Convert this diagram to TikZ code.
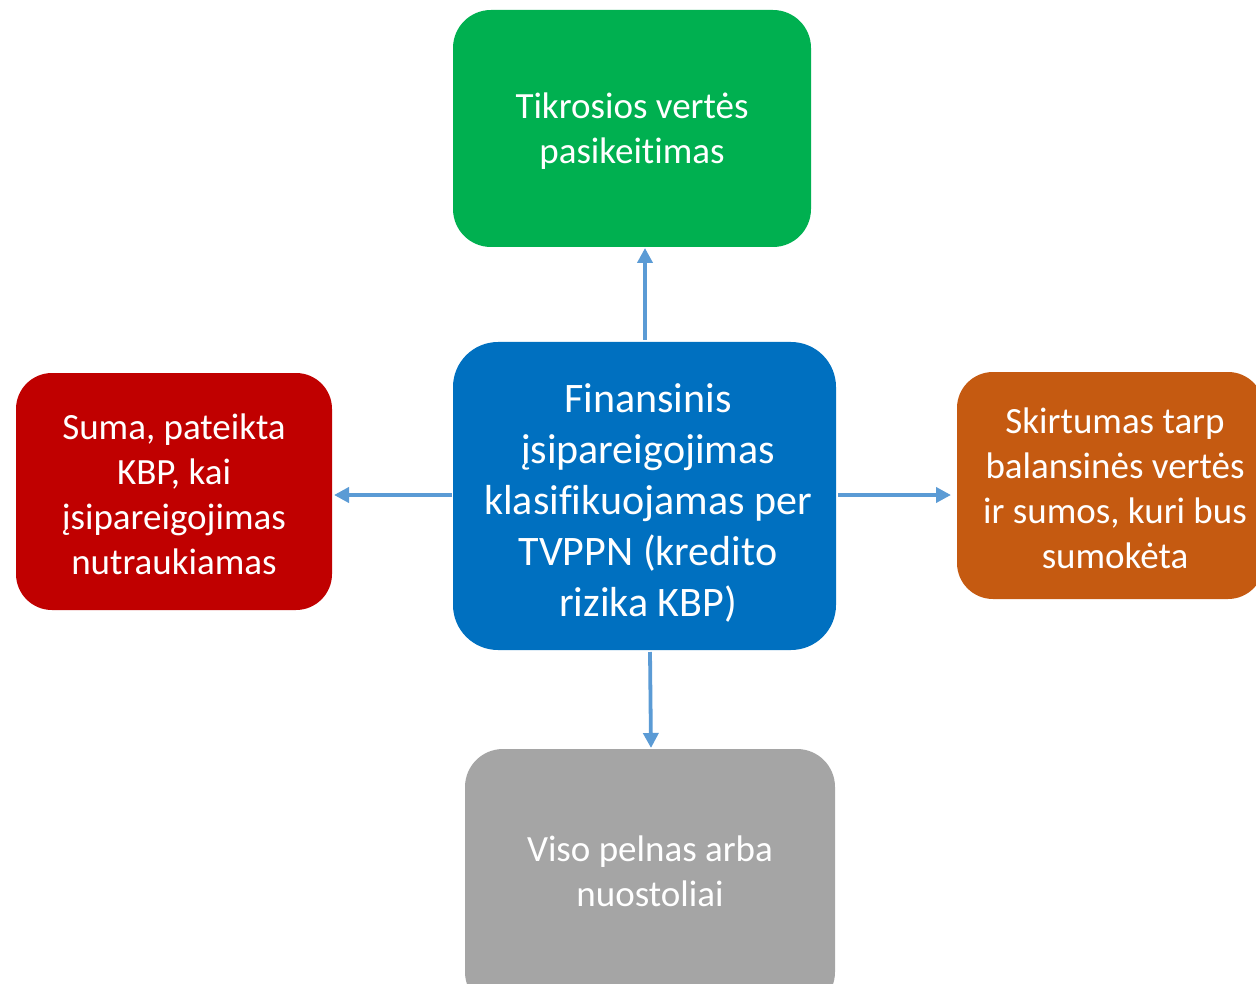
\documentclass[tikz,border=0pt]{standalone}
\usepackage{fontspec}
\setmainfont[Ligatures=NoCommon]{Carlito}
\usetikzlibrary{arrows.meta}
\definecolor{cgreen}{HTML}{00B050}
\definecolor{cblue}{HTML}{0070C0}
\definecolor{cred}{HTML}{C00000}
\definecolor{corange}{HTML}{C55A11}
\definecolor{cgray}{HTML}{A5A5A5}
\definecolor{carrow}{HTML}{5B9BD5}
\tikzset{
  lbl/.style={text=white, align=center, font=\fontsize{37}{45}\selectfont},
  conn/.style={draw=carrow, line width=3.8pt, -{Triangle[length=15pt,width=15pt]}}
}
\begin{document}
\begin{tikzpicture}[x=1pt,y=-1pt]
\useasboundingbox (0,0) rectangle (1256,984);
\begin{scope}
\clip (0,0) rectangle (1256,984);
\fill[cgreen, rounded corners=38pt] (453,10) rectangle (811,247);
\fill[cblue, rounded corners=45pt] (453,342) rectangle (836,650);
\fill[cred, rounded corners=36pt] (16,373) rectangle (332,610);
\fill[corange, rounded corners=36pt] (957,372) rectangle (1264,599);
\fill[cgray, rounded corners=38pt] (465,749) rectangle (835,1010);
\end{scope}
\node[lbl] (gt) at (632,131) {Tikrosios vertės\\pasikeitimas};
\node[lbl, font=\fontsize{42}{51}\selectfont] (bt) at (648,503) {Finansinis\\įsipareigojimas\\klasifikuojamas per\\TVPPN (kredito\\rizika KBP)};
\node[lbl] (rt) at (174,494) {Suma, pateikta\\KBP, kai\\įsipareigojimas\\nutraukiamas};
\node[lbl] (ot) at (1115,488) {Skirtumas tarp\\balansinės vertės\\ir sumos, kuri bus\\sumokėta};
\node[lbl] (yt) at (650,871) {Viso pelnas arba\\nuostoliai};
\coordinate (bn) at (645,340);
\coordinate (gs) at (645,248);
\coordinate (bw) at (452,495);
\coordinate (re) at (334,495);
\coordinate (be) at (838,495);
\coordinate (ow) at (951,495);
\coordinate (bs) at (650,652);
\coordinate (yn) at (651,748);
\draw[conn] (bn) -- (gs);
\draw[conn] (bw) -- (re);
\draw[conn] (be) -- (ow);
\draw[conn] (bs) -- (yn);
\end{tikzpicture}
\end{document}
